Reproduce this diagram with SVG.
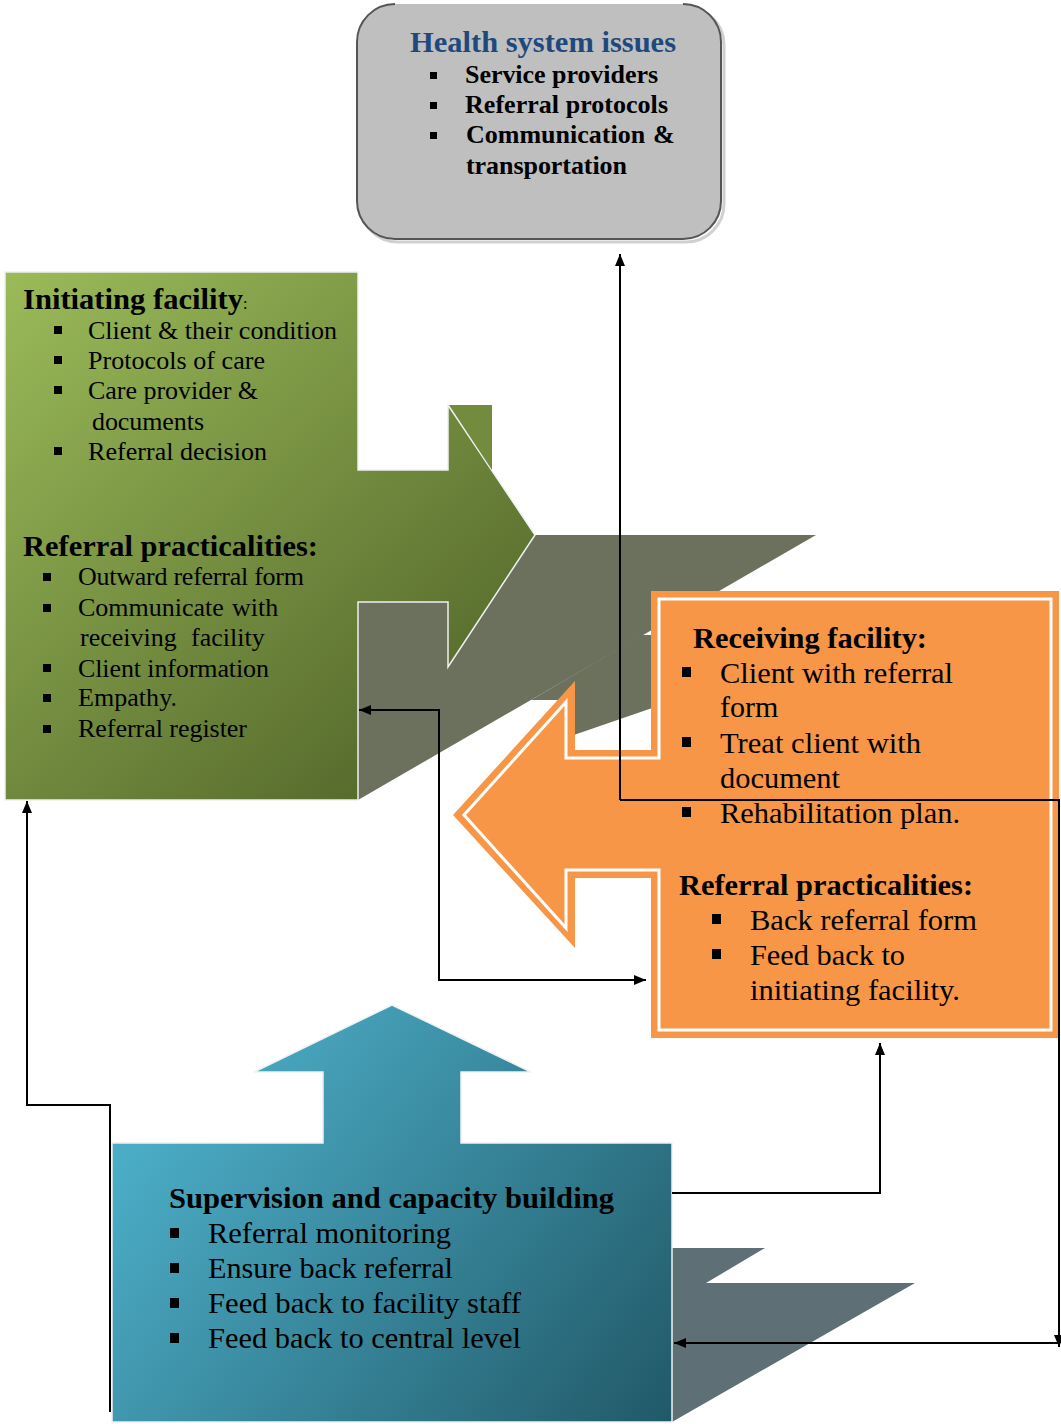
<svg xmlns="http://www.w3.org/2000/svg" width="1061" height="1424" viewBox="0 0 1061 1424">
<style>
text{font-family:"Liberation Serif","Times New Roman",serif;fill:#000}
.h{font-weight:bold;font-size:30px}
.hb{font-weight:bold;font-size:26px}
.g{font-size:26px}
.o{font-size:30px}
.conn{fill:none;stroke:#000;stroke-width:2}
.bul{fill:#000}
</style>
<defs>
<linearGradient id="gGreen" gradientUnits="userSpaceOnUse" x1="5" y1="272" x2="470" y2="800">
<stop offset="0" stop-color="#9BBB59"/><stop offset="1" stop-color="#4F6228"/>
</linearGradient>
<linearGradient id="gBlue" gradientUnits="userSpaceOnUse" x1="200" y1="1060" x2="672" y2="1420">
<stop offset="0" stop-color="#4BACC6"/><stop offset="1" stop-color="#215968"/>
</linearGradient>
<marker id="arr" viewBox="0 0 12 10" refX="12" refY="5" markerWidth="12" markerHeight="10" markerUnits="userSpaceOnUse" orient="auto-start-reverse">
<path d="M0,0 L12,5 L0,10 z" fill="#000"/>
</marker>
</defs>

<!-- shadows -->
<g id="shadows">
<polygon points="358,602 448,602 448,667 535,535 816,535 358,800" fill="#6C715E"/>
<polygon points="642,635 690,635 690,695 568,737 568,700 531,700" fill="#6C715E"/>
<polygon points="672,1248 765,1248 706,1283 915,1283 672,1422" fill="#5E6F75"/>
</g>

<g id="node-health">
<rect x="360" y="7" width="364" height="235" rx="38" fill="none" stroke="#d0d0d0" stroke-width="3"/>
<rect x="357" y="4" width="364" height="235" rx="38" fill="#BFBFBF"/>
<path d="M395,4 A38,38 0 0 0 357,42 V201 A38,38 0 0 0 395,239 H683 A38,38 0 0 0 721,201 V42 A38,38 0 0 0 683,4" fill="none" stroke="#555" stroke-width="2"/>
<text class="h" x="410" y="52" style="fill:#1F497D" textLength="266" lengthAdjust="spacingAndGlyphs">Health system issues</text>
<rect class="bul" x="430" y="72" width="7" height="7"/>
<rect class="bul" x="430" y="102" width="7" height="7"/>
<rect class="bul" x="430" y="132" width="7" height="7"/>
<text class="hb" x="465" y="83" textLength="193" lengthAdjust="spacing">Service providers</text>
<text class="hb" x="465" y="113" textLength="203" lengthAdjust="spacing">Referral protocols</text>
<text class="hb" y="143"><tspan x="466">Communication</tspan><tspan x="653">&amp;</tspan></text>
<text class="hb" x="466" y="174" textLength="161" lengthAdjust="spacing">transportation</text>
</g>

<g id="node-initiating">
<polygon points="5,272 358,272 358,470 448,470 448,405 535,535 448,667 448,602 358,602 358,800 5,800" fill="url(#gGreen)" stroke="#f0f0f0" stroke-width="1.5"/>
<polygon points="449,405 492,405 492,470" fill="#738B3D"/>
<text class="h" x="23" y="309"><tspan textLength="220" lengthAdjust="spacingAndGlyphs">Initiating facility</tspan><tspan style="font-weight:normal;font-size:16px">:</tspan></text>
<rect class="bul" x="54" y="326" width="8" height="8"/>
<rect class="bul" x="54" y="356" width="8" height="8"/>
<rect class="bul" x="54" y="386" width="8" height="8"/>
<rect class="bul" x="54" y="447" width="8" height="8"/>
<text class="g" x="88" y="339" textLength="249" lengthAdjust="spacing">Client &amp; their condition</text>
<text class="g" x="88" y="369" textLength="177" lengthAdjust="spacing">Protocols of care</text>
<text class="g" x="88" y="399" textLength="170" lengthAdjust="spacing">Care provider &amp;</text>
<text class="g" x="92" y="430" textLength="112" lengthAdjust="spacing">documents</text>
<text class="g" x="88" y="460" textLength="179" lengthAdjust="spacing">Referral decision</text>
<text class="h" x="23" y="556" textLength="295" lengthAdjust="spacingAndGlyphs">Referral practicalities:</text>
<rect class="bul" x="43" y="573" width="8" height="8"/>
<rect class="bul" x="43" y="604" width="8" height="8"/>
<rect class="bul" x="43" y="664" width="8" height="8"/>
<rect class="bul" x="43" y="694" width="8" height="8"/>
<rect class="bul" x="43" y="725" width="8" height="8"/>
<text class="g" x="78" y="585" textLength="226" lengthAdjust="spacing">Outward referral form</text>
<text class="g" y="616"><tspan x="78">Communicate</tspan><tspan x="232">with</tspan></text>
<text class="g" y="646"><tspan x="80">receiving</tspan><tspan x="191">facility</tspan></text>
<text class="g" x="78" y="677" textLength="191" lengthAdjust="spacing">Client information</text>
<text class="g" x="78" y="706" textLength="99" lengthAdjust="spacing">Empathy.</text>
<text class="g" x="78" y="737" textLength="169" lengthAdjust="spacing">Referral register</text>
</g>

<g id="node-receiving">
<polygon points="575,681 453,815 575,948 575,878 651,878 651,1038 1059,1038 1059,591 651,591 651,750 575,750" fill="#F79646"/>
<polygon points="566,702 464,815 566,928 566,870 659,870 659,1030 1051,1030 1051,599 659,599 659,758 566,758" fill="none" stroke="#fff" stroke-width="3"/>
<text class="h" x="693" y="648" textLength="234" lengthAdjust="spacingAndGlyphs">Receiving facility:</text>
<rect class="bul" x="682" y="667" width="9" height="10"/>
<rect class="bul" x="682" y="737" width="9" height="10"/>
<rect class="bul" x="682" y="807" width="9" height="10"/>
<text class="o" x="720" y="683" textLength="233" lengthAdjust="spacingAndGlyphs">Client with referral</text>
<text class="o" x="720" y="717">form</text>
<text class="o" x="720" y="753" textLength="201" lengthAdjust="spacingAndGlyphs">Treat client with</text>
<text class="o" x="720" y="788" textLength="120" lengthAdjust="spacingAndGlyphs">document</text>
<text class="o" x="720" y="823" textLength="240" lengthAdjust="spacingAndGlyphs">Rehabilitation plan.</text>
<text class="h" x="679" y="895" textLength="294" lengthAdjust="spacingAndGlyphs">Referral practicalities:</text>
<rect class="bul" x="712" y="914" width="9" height="10"/>
<rect class="bul" x="712" y="949" width="9" height="10"/>
<text class="o" x="750" y="930" textLength="227" lengthAdjust="spacingAndGlyphs">Back referral form</text>
<text class="o" x="750" y="965" textLength="155" lengthAdjust="spacingAndGlyphs">Feed back to</text>
<text class="o" x="750" y="1000" textLength="210" lengthAdjust="spacingAndGlyphs">initiating facility.</text>
</g>

<g id="node-supervision">
<polygon points="392,1005 531,1072 461,1072 461,1143 672,1143 672,1422 112,1422 112,1143 323,1143 323,1072 254,1072" fill="url(#gBlue)" stroke="#eef2f4" stroke-width="1.5"/>
<text class="h" x="169" y="1208" textLength="445" lengthAdjust="spacingAndGlyphs">Supervision and capacity building</text>
<rect class="bul" x="170" y="1228" width="9" height="10"/>
<rect class="bul" x="170" y="1263" width="9" height="10"/>
<rect class="bul" x="170" y="1298" width="9" height="10"/>
<rect class="bul" x="170" y="1333" width="9" height="10"/>
<text class="o" x="208" y="1243" textLength="243" lengthAdjust="spacingAndGlyphs">Referral monitoring</text>
<text class="o" x="208" y="1278" textLength="245" lengthAdjust="spacingAndGlyphs">Ensure back referral</text>
<text class="o" x="208" y="1313" textLength="313" lengthAdjust="spacingAndGlyphs">Feed back to facility staff</text>
<text class="o" x="208" y="1348" textLength="313" lengthAdjust="spacingAndGlyphs">Feed back to central level</text>
</g>

<g id="connectors">
<path class="conn" d="M620,800 V254" marker-end="url(#arr)"/>
<path class="conn" d="M620,800 H1059 V1347" marker-end="url(#arr)"/>
<path class="conn" d="M1059,1343 H674" marker-end="url(#arr)"/>
<path class="conn" d="M110,1412 V1105 H27 V801" marker-end="url(#arr)"/>
<path class="conn" d="M359,710 H439 V980 H646" marker-start="url(#arr)" marker-end="url(#arr)"/>
<path class="conn" d="M672,1193 H880 V1043" marker-end="url(#arr)"/>
</g>
</svg>
